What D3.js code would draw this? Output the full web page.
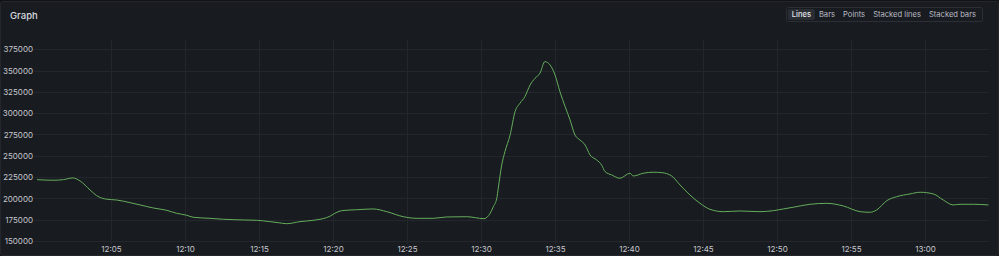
<!DOCTYPE html>
<html>
<head>
<meta charset="utf-8">
<script src="https://cdn.jsdelivr.net/npm/d3@7"></script>
<style>
  html, body { margin: 0; padding: 0; background: #111217; }
  svg { display: block; }
</style>
</head>
<body>
<svg id="chart" width="999" height="256"></svg>
<script>
const times = ["12:00:00","12:01:06","12:01:47","12:02:25","12:02:55","12:03:35","12:04:02","12:04:43","12:05:23","12:06:17","12:06:58","12:07:52","12:08:46","12:09:26","12:10:07","12:10:34","12:11:41","12:12:35","12:13:56","12:14:50","12:15:44","12:16:18","12:16:52","12:17:46","12:18:40","12:19:34","12:20:35","12:21:36","12:22:43","12:23:38","12:24:45","12:25:40","12:26:47","12:27:41","12:29:02","12:30:12","12:30:37","12:30:50","12:31:04","12:31:10","12:31:24","12:31:37","12:31:58","12:32:18","12:32:38","12:32:58","12:33:19","12:33:39","12:33:59","12:34:19","12:34:40","12:35:00","12:35:20","12:35:41","12:36:01","12:36:21","12:36:41","12:37:02","12:37:22","12:37:49","12:38:09","12:38:23","12:38:50","12:39:23","12:40:04","12:40:17","12:40:58","12:41:38","12:42:13","12:42:53","12:43:27","12:44:07","12:44:48","12:45:28","12:46:22","12:47:30","12:48:51","12:49:45","12:50:26","12:51:06","12:52:14","12:53:22","12:54:29","12:55:37","12:56:17","12:56:44","12:57:25","12:58:05","12:58:59","12:59:40","13:00:34","13:01:14","13:01:55","13:02:22","13:03:16","13:04:17"];
const values = [222000,221300,222000,224000,220400,209900,203200,199000,198100,195000,192300,188700,186000,182500,180200,177800,176600,175500,174700,174300,172700,171500,170300,172700,174300,177400,185600,186700,187600,184400,178500,176600,176600,178200,178500,176200,182500,190300,200100,211900,239200,254800,274400,301800,311700,319400,333100,341000,346900,360500,356600,344900,325300,307700,292100,274400,268600,262700,251000,245100,239200,231400,227500,223600,229500,226300,229500,230700,230200,226300,215700,204000,194200,187200,184400,185200,184400,185600,187600,189600,193100,194200,191100,184400,183700,186400,197300,202000,205200,207200,205200,198100,192300,193100,193100,192300];
const yTicks = [150000,175000,200000,225000,250000,275000,300000,325000,350000,375000];
const xTickLabels = ["12:05","12:10","12:15","12:20","12:25","12:30","12:35","12:40","12:45","12:50","12:55","13:00"];
const viewModes = ["Lines","Bars","Points","Stacked lines","Stacked bars"];
const title = "Graph";

const parse = d3.timeParse("%H:%M:%S");
const parseTick = d3.timeParse("%H:%M");
const data = times.map((t, i) => ({ t: parse(t), v: values[i] }));

const svg = d3.select("#chart");
const W = 999, H = 256;

// panel
svg.append("rect").attr("x", 0.5).attr("y", 1.5).attr("width", W - 1).attr("height", H - 2)
  .attr("rx", 2).attr("fill", "#181b1f").attr("stroke", "#24262b");

svg.append("text").attr("x", 10).attr("y", 18.5).text(title)
  .attr("fill", "#d8d9e0").attr("font-family", "Inter, sans-serif")
  .attr("font-size", 9.5).attr("font-weight", 500);

// mode buttons
const font = "Inter, sans-serif";
const btnG = svg.append("g");
const btnFs = 7.6;
const tmp = svg.append("text").attr("font-family", font).attr("font-size", btnFs);
const pad = 4;
const widths = viewModes.map(m => { tmp.text(m); return tmp.node().getComputedTextLength() + 2 * pad; });
tmp.remove();
const totalW = d3.sum(widths) + 4;
const bx0 = 982 - totalW;
btnG.append("rect").attr("x", bx0 + 0.5).attr("y", 7.5).attr("width", totalW).attr("height", 14)
  .attr("rx", 2).attr("fill", "#181b1f").attr("stroke", "#2c2f35");
let cx = bx0 + 2;
viewModes.forEach((m, i) => {
  if (i === 0) {
    btnG.append("rect").attr("x", cx).attr("y", 9).attr("width", widths[i]).attr("height", 11)
      .attr("rx", 2).attr("fill", "#2a2d33");
  }
  btnG.append("text").attr("x", cx + widths[i] / 2).attr("y", 17.2).attr("text-anchor", "middle")
    .attr("font-family", font).attr("font-size", btnFs).attr("font-weight", i === 0 ? 500 : 400)
    .attr("fill", i === 0 ? "#e4e5ea" : "#b8bac4").text(m);
  cx += widths[i];
});

// scales
const x = d3.scaleTime()
  .domain([parse("12:00:00"), parse("13:04:20")])
  .range([37, 37 + 14.8 * (64 + 20 / 60)]);
const y = d3.scaleLinear().domain([146000, 386000]).range([244.4, 39.9]);

// grid
const g = svg.append("g");
g.selectAll("line.h").data(yTicks).join("line")
  .attr("x1", 34).attr("x2", 989)
  .attr("y1", d => Math.round(y(d)) + 0.5).attr("y2", d => Math.round(y(d)) + 0.5)
  .attr("stroke", "#23262b").attr("stroke-width", 1);
const xTicks = xTickLabels.map(parseTick);
g.selectAll("line.v").data(xTicks).join("line")
  .attr("x1", d => Math.round(x(d)) + 0.5).attr("x2", d => Math.round(x(d)) + 0.5)
  .attr("y1", 40).attr("y2", 244)
  .attr("stroke", "#23262b").attr("stroke-width", 1);

// axes labels
const yAxis = d3.axisLeft(y).tickValues(yTicks).tickSize(0).tickFormat(d3.format("d"));
const ya = svg.append("g").attr("transform", "translate(33,0)").call(yAxis);
ya.select(".domain").remove();
ya.selectAll("text").attr("fill", "#c7c8d0").attr("font-family", font).attr("font-size", 8)
  .attr("x", 0).attr("dy", "0.33em");

const xAxis = d3.axisBottom(x).tickValues(xTicks).tickSize(0).tickFormat(d3.timeFormat("%H:%M"));
const xa = svg.append("g").attr("transform", "translate(0,246)").call(xAxis);
xa.select(".domain").remove();
xa.selectAll("text").attr("fill", "#c7c8d0").attr("font-family", font).attr("font-size", 8)
  .attr("y", 0).attr("dy", "0.71em");

// line
const line = d3.line().x(d => x(d.t)).y(d => y(d.v)).curve(d3.curveMonotoneX);
svg.append("path").datum(data).attr("d", line)
  .attr("fill", "none").attr("stroke", "#64ad5b").attr("stroke-width", 1);
</script>
</body>
</html>
